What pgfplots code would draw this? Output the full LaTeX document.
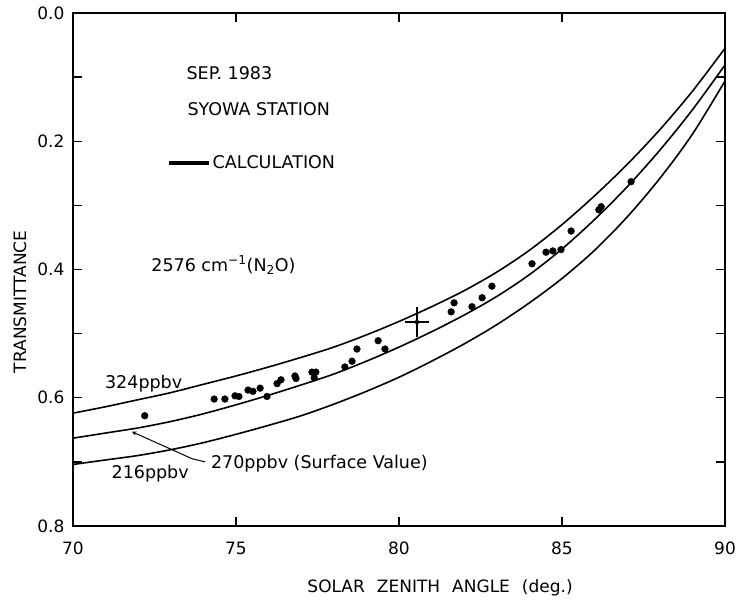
\documentclass[border=0pt]{standalone}
\usepackage{pgfplots}
\pgfplotsset{compat=1.18}
\usepackage{fontspec}
\setmainfont{DejaVu Sans}
\pgfplotstableread{
x   a324   b270   c216
70  0.624  0.663  0.704
71  0.614  0.655  0.697
72  0.603  0.647  0.690
73  0.592  0.637  0.681
74  0.579  0.625  0.670
75  0.566  0.611  0.657
76  0.552  0.596  0.643
77  0.537  0.580  0.628
78  0.521  0.563  0.610
79  0.502  0.543  0.590
80  0.481  0.521  0.568
81  0.458  0.497  0.543
82  0.433  0.471  0.516
83  0.404  0.442  0.486
84  0.370  0.408  0.452
85  0.330  0.368  0.414
86  0.285  0.322  0.370
87  0.236  0.271  0.318
88  0.182  0.214  0.258
89  0.122  0.151  0.189
90  0.055  0.081  0.106
}\curves
\pgfplotstableread{
x      t
72.20  0.628
74.33  0.602
74.66  0.602
74.97  0.597
75.09  0.598
75.37  0.588
75.52  0.590
75.74  0.585
75.95  0.598
76.26  0.578
76.38  0.572
76.81  0.566
76.84  0.570
77.33  0.560
77.45  0.560
77.40  0.569
78.34  0.552
78.56  0.543
78.71  0.524
79.36  0.511
79.57  0.524
81.60  0.466
81.69  0.452
82.24  0.458
82.55  0.444
82.85  0.426
84.08  0.391
84.51  0.373
84.72  0.371
84.97  0.369
85.28  0.340
86.13  0.307
86.20  0.302
87.12  0.263
}\obs
\begin{document}
\fontsize{17.5}{20}\selectfont
\begin{tikzpicture}
\begin{axis}[
  name=ax,
  scale only axis, width=652pt, height=513pt,
  xmin=70, xmax=90, ymin=0, ymax=0.8, y dir=reverse,
  xtick={70,75,80,85,90},
  xticklabels={70,75,80,85,90},
  ytick={0,0.1,0.2,0.3,0.4,0.5,0.6,0.7,0.8},
  yticklabels={0.0,,0.2,,0.4,,0.6,,0.8},
  tick align=inside, major tick length=9pt,
  axis line style={line width=1.3pt},
  every tick/.style={line width=1.3pt, black},
  tick label style={font=\fontsize{17}{20}\selectfont},
  xticklabel style={yshift=-10pt},
  yticklabel style={xshift=-2.5pt},
  /pgf/number format/assume math mode=true,
  xlabel={SOLAR\hspace{12pt}ZENITH\hspace{12pt}ANGLE\hspace{12pt}(deg.)},
  ylabel={TRANSMITTANCE},
  label style={font=\fontsize{17}{20}\selectfont},
  xlabel style={at={([yshift=-62pt]axis description cs:0.563,0)}, anchor=center},
  ylabel style={at={([xshift=-53pt]axis description cs:0,0.437)}, anchor=center},
  legend style={at={(axis cs:72.88,0.234)}, anchor=west, draw=none, fill=none,
    inner sep=0pt, nodes={inner sep=2pt, font=\fontsize{17.5}{20}\selectfont}},
  legend cell align=left,
  legend image code/.code={\draw[line width=3.5pt] (0pt,0pt) -- (40pt,0pt);},
  /tikz/every even column/.append style={column sep=9pt},
  clip=false,
]
\addplot[black, line width=1.6pt, smooth, forget plot] table[x=x, y=a324] {\curves};
\addplot[black, line width=1.6pt, smooth, forget plot] table[x=x, y=b270] {\curves};
\addplot[black, line width=1.6pt, smooth, forget plot] table[x=x, y=c216] {\curves};
\addplot[only marks, mark=*, mark size=3.4pt, black, forget plot] table[x=x, y=t] {\obs};
\addplot[only marks, mark=*, mark size=2pt, black, forget plot,
  error bars/.cd, x dir=both, x explicit, y dir=both, y explicit,
  error mark=none, error bar style={line width=1.3pt}]
  coordinates {(80.55,0.482) +- (0.37,0.023)};
\addlegendimage{black, line width=3.5pt}
\addlegendentry{CALCULATION}
\node[anchor=west] at (axis cs:73.30,0.0935) {SEP. 1983};
\node[anchor=west] at (axis cs:73.33,0.150) {SYOWA STATION};
\node[anchor=west] at (axis cs:72.22,0.393) {2576 cm\textsuperscript{−1}(N\textsubscript{2}O)};
\node[anchor=west] at (axis cs:70.80,0.578) {324ppbv};
\node[anchor=west] at (axis cs:71.00,0.719) {216ppbv};
\node[anchor=west] at (axis cs:74.05,0.703) {270ppbv (Surface Value)};
\draw[line width=1pt, ->, >=stealth] (axis cs:74.05,0.700) -- (axis cs:73.65,0.695) -- (axis cs:71.81,0.653);
\end{axis}
\pgfresetboundingbox
\path[use as bounding box] (ax.south west) ++(-73pt,-77pt) rectangle ++(739pt,603pt);
\end{tikzpicture}
\end{document}
